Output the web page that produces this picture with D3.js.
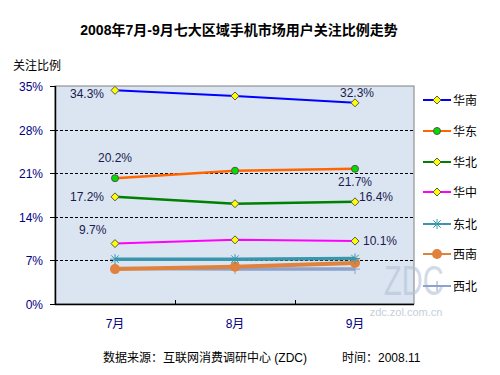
<!DOCTYPE html>
<html><head><meta charset="utf-8">
<script src="https://cdn.jsdelivr.net/npm/d3@7"></script>
<style>body{margin:0;background:#fff;}svg{display:block;font-family:"Liberation Sans","Noto Sans CJK SC",sans-serif;}</style>
</head><body>
<svg id="c" width="500" height="375"></svg>
<script>
const months = ["7月","8月","9月"];
const seriesNames = ["华南","华东","华北","华中","东北","西南","西北"];
const huanan = [34.3, 33.4, 32.3];
const huadong = [20.2, 21.4, 21.7];
const huabei = [17.2, 16.1, 16.4];
const huazhong = [9.7, 10.3, 10.1];
const dongbei = [7.2, 7.2, 7.3];
const xinan = [5.6, 6.0, 6.6];
const xibei = [5.7, 5.6, 5.6];
const yTicks = [0, 7, 14, 21, 28, 35];
const labels = [
  {s:0,i:0,t:"34.3%",dx:-45,dy:8},
  {s:0,i:2,t:"32.3%",dx:-15,dy:-6},
  {s:1,i:0,t:"20.2%",dx:-17,dy:-16},
  {s:1,i:2,t:"21.7%",dx:-17,dy:17},
  {s:2,i:0,t:"17.2%",dx:-45,dy:4},
  {s:2,i:2,t:"16.4%",dx:4,dy:-1},
  {s:3,i:0,t:"9.7%",dx:-36,dy:-10},
  {s:3,i:2,t:"10.1%",dx:8,dy:4}
];
const values = [huanan, huadong, huabei, huazhong, dongbei, xinan, xibei];
const colors = ["#0000ff","#ff6600","#008000","#ff00ff","#3a96ad","#e0823c","#8ea2cc"];
const markers = ["diamond","circle","diamond","diamond","star","bigcircle","plus"];

const svg = d3.select("#c");
const L=55, R=414, T=86, B=304;
const x = d3.scaleBand().domain(months).range([L,R+1]);
const y = d3.scaleLinear().domain([0,35]).range([B,T]);

svg.append("text").attr("x",239).attr("y",35).attr("text-anchor","middle")
  .attr("font-size",14).attr("font-weight","bold").attr("fill","#000").text("2008年7月-9月七大区域手机市场用户关注比例走势");
svg.append("text").attr("x",13).attr("y",70).attr("font-size",12).attr("fill","#000").text("关注比例");

svg.append("rect").attr("x",L).attr("y",T).attr("width",R-L).attr("height",B-T)
  .attr("fill","#dbe5f1").attr("stroke","#808080").attr("stroke-width",1);

// watermark
svg.append("text").attr("transform","translate(384,295) scale(1,1.45)").attr("font-size",29)
  .attr("fill","#b4c2d6").attr("opacity",0.6).text("ZDC");
svg.append("text").attr("x",406).attr("y",316).attr("text-anchor","middle").attr("font-size",11)
  .attr("fill","#c2cad6").attr("opacity",0.9).text("zdc.zol.com.cn");

// gridlines
svg.append("g").selectAll("line").data(yTicks.filter(d=>d>0&&d<35)).join("line")
  .attr("x1",L).attr("x2",R).attr("y1",d=>Math.round(y(d))+0.5).attr("y2",d=>Math.round(y(d))+0.5)
  .attr("stroke","#000").attr("stroke-dasharray","3,2");
// y ticks extending left
svg.append("g").selectAll("line").data(yTicks).join("line")
  .attr("x1",L-5).attr("x2",L).attr("y1",d=>Math.round(y(d))+0.5).attr("y2",d=>Math.round(y(d))+0.5)
  .attr("stroke","#000");
svg.append("g").selectAll("text").data(yTicks).join("text")
  .attr("x",43).attr("y",d=>y(d)+5).attr("text-anchor","end").attr("font-size",12).attr("fill","#000080")
  .text(d=>d+"%");

// axes lines
svg.append("line").attr("x1",L+0.5).attr("x2",L+0.5).attr("y1",T).attr("y2",B).attr("stroke","#000").attr("stroke-width",1.5);
svg.append("line").attr("x1",L).attr("x2",R).attr("y1",B+0.5).attr("y2",B+0.5).attr("stroke","#000").attr("stroke-width",1.5);
// x ticks between categories
svg.append("g").selectAll("line").data(months.slice(1)).join("line")
  .attr("x1",d=>Math.round(x(d))+0.5).attr("x2",d=>Math.round(x(d))+0.5).attr("y1",B-4).attr("y2",B)
  .attr("stroke","#000");
svg.append("g").selectAll("text").data(months).join("text")
  .attr("x",d=>x(d)+x.bandwidth()/2).attr("y",328).attr("text-anchor","middle").attr("font-size",12)
  .attr("fill","#000080").text(d=>d);

const cx = d => x(d)+x.bandwidth()/2;
const line = d3.line().x((d,i)=>cx(months[i])).y(d=>y(d));

function drawMarker(g, type, px, py, color){
  if(type==="diamond"){
    g.append("path").attr("d",`M${px},${py-4}L${px+4},${py}L${px},${py+4}L${px-4},${py}Z`)
      .attr("fill","#ffff00").attr("stroke","#555").attr("stroke-width",1);
  } else if(type==="circle"){
    g.append("circle").attr("cx",px).attr("cy",py).attr("r",3.5).attr("fill","#00dd00").attr("stroke","#555");
  } else if(type==="bigcircle"){
    g.append("circle").attr("cx",px).attr("cy",py).attr("r",5).attr("fill",color);
  } else if(type==="star"){
    const s=5;
    g.append("path").attr("d",`M${px-s},${py}H${px+s}M${px},${py-s}V${py+s}M${px-s*0.75},${py-s*0.75}L${px+s*0.75},${py+s*0.75}M${px-s*0.75},${py+s*0.75}L${px+s*0.75},${py-s*0.75}`)
      .attr("stroke",color).attr("stroke-width",1).attr("fill","none");
  } else if(type==="plus"){
    const s=5;
    g.append("path").attr("d",`M${px-s},${py}H${px+s}M${px},${py-s}V${py+s}`)
      .attr("stroke",color).attr("stroke-width",1).attr("fill","none");
  }
}

const widths=[2,2.5,2.5,2,3.5,4,3.5];
// draw from back to front
[6,5,4,3,2,1,0].forEach(s=>{
  const g = svg.append("g");
  g.append("path").datum(values[s]).attr("d",line).attr("fill","none")
    .attr("stroke",colors[s]).attr("stroke-width",widths[s]);
  values[s].forEach((v,i)=>drawMarker(g, markers[s], cx(months[i]), y(v), colors[s]));
});

// data labels
svg.append("g").selectAll("text").data(labels).join("text")
  .attr("x",d=>cx(months[d.i])+d.dx).attr("y",d=>y(values[d.s][d.i])+d.dy)
  .attr("font-size",12).attr("fill","#1a1a50").text(d=>d.t);

// legend
const ly=[100,131,162,192,224,254,286];
seriesNames.forEach((n,s)=>{
  const g=svg.append("g");
  g.append("line").attr("x1",423).attr("x2",451).attr("y1",ly[s]).attr("y2",ly[s])
    .attr("stroke",colors[s]).attr("stroke-width",2);
  drawMarker(g, markers[s], 437, ly[s], colors[s]);
  g.append("text").attr("x",453).attr("y",ly[s]+5).attr("font-size",12).attr("fill","#000").text(n);
});

// footer
svg.append("text").attr("x",103).attr("y",362).attr("font-size",12).attr("fill","#000").text("数据来源：互联网消费调研中心 (ZDC)");
svg.append("text").attr("x",342).attr("y",362).attr("font-size",12).attr("fill","#000").text("时间：2008.11");
</script>
</body></html>
